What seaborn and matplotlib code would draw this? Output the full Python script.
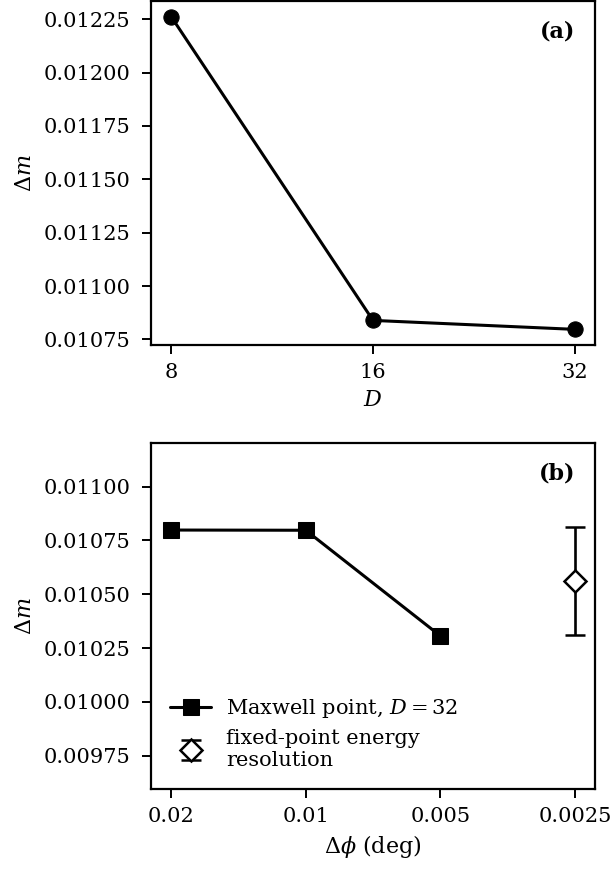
import matplotlib
matplotlib.use("Agg")
import matplotlib.pyplot as plt
import seaborn as sns
import numpy as np
import pandas as pd
from matplotlib.ticker import FixedLocator, FixedFormatter, NullLocator

# ---- data ----
bond_dims = [8, 16, 32]
dm_bond = [0.012262, 0.010839, 0.010797]

dphi = [0.02, 0.01, 0.005]
dm_dphi = [0.010798, 0.010797, 0.010307]
dphi_ticks = [0.02, 0.01, 0.005, 0.0025]
dphi_ticklabels = ["0.02", "0.01", "0.005", "0.0025"]

fp_x = [0.0025]
fp_y = [0.01056]
fp_err = [0.00025]

sns.set_theme(style="ticks")
plt.rcParams["font.family"] = ["DejaVu Serif"]
plt.rcParams["mathtext.fontset"] = "dejavuserif"
plt.rcParams["font.size"] = 15
plt.rcParams["text.color"] = "black"
plt.rcParams["axes.labelcolor"] = "black"
plt.rcParams["axes.linewidth"] = 1.6
plt.rcParams["xtick.major.width"] = 1.4
plt.rcParams["ytick.major.width"] = 1.4
plt.rcParams["xtick.major.size"] = 6.5
plt.rcParams["ytick.major.size"] = 6.5
plt.rcParams["xtick.major.pad"] = 6.5
plt.rcParams["ytick.major.pad"] = 8.5

fig = plt.figure(figsize=(6.13, 8.69), dpi=100)
W, H = 613, 869
ax1 = fig.add_axes([151 / W, 1 - 345 / H, 444 / W, 344 / H])
ax2 = fig.add_axes([151 / W, 1 - 789 / H, 444 / W, 346 / H])

for ax in (ax1, ax2):
    ax.tick_params(labelsize=15, colors="black")
    for s in ax.spines.values():
        s.set_color("black")

# ---- panel (a) ----
df1 = pd.DataFrame({"D": bond_dims, "dm": dm_bond})
sns.lineplot(data=df1, x="D", y="dm", ax=ax1, color="black", marker="o",
             markersize=11, linewidth=2.2, markeredgecolor="black")
ax1.set_xscale("log", base=2)
ax1.xaxis.set_major_locator(FixedLocator(bond_dims))
ax1.xaxis.set_major_formatter(FixedFormatter([str(d) for d in bond_dims]))
ax1.xaxis.set_minor_locator(NullLocator())
ax1.set_yticks([0.01075, 0.01100, 0.01125, 0.01150, 0.01175, 0.01200, 0.01225])
ax1.set_yticklabels(["0.01075", "0.01100", "0.01125", "0.01150", "0.01175", "0.01200", "0.01225"])
ax1.set_xlabel("$D$", fontsize=16, labelpad=5)
ax1.set_ylabel(r"$\Delta m$", fontsize=16, labelpad=5)
ax1.text(0.955, 0.91, "(a)", transform=ax1.transAxes, ha="right", va="center",
         fontweight="bold", fontsize=16)

# ---- panel (b) ----
df2 = pd.DataFrame({"dphi": dphi, "dm": dm_dphi})
sns.lineplot(data=df2, x="dphi", y="dm", ax=ax2, color="black", marker="s",
             markersize=11, linewidth=2.2, markeredgecolor="black",
             label="Maxwell point, $D=32$")
ax2.errorbar(fp_x, fp_y, yerr=fp_err, fmt="D", color="black", mfc="white",
             mec="black", mew=1.8, markersize=11.5, capsize=7.5, elinewidth=1.9,
             capthick=1.9, label="fixed-point energy\nresolution")
ax2.set_xscale("log", base=2)
ax2.set_xlim(0.02 * 2 ** 0.15, 0.0025 / 2 ** 0.15)
ax2.xaxis.set_major_locator(FixedLocator(dphi_ticks))
ax2.xaxis.set_major_formatter(FixedFormatter(dphi_ticklabels))
ax2.xaxis.set_minor_locator(NullLocator())
ax2.set_ylim(0.009596, 0.011202)
ax2.set_yticks([0.00975, 0.01000, 0.01025, 0.01050, 0.01075, 0.01100])
ax2.set_yticklabels(["0.00975", "0.01000", "0.01025", "0.01050", "0.01075", "0.01100"])
ax2.set_xlabel(r"$\Delta\phi$ (deg)", fontsize=16, labelpad=5)
ax2.set_ylabel(r"$\Delta m$", fontsize=16, labelpad=5)
ax2.text(0.955, 0.913, "(b)", transform=ax2.transAxes, ha="right", va="center",
         fontweight="bold", fontsize=16)
leg = ax2.legend(loc="lower left", frameon=False, fontsize=15,
                 handlelength=2.0, labelspacing=0.45, borderaxespad=0.5,
                 handletextpad=0.7)
for t in leg.get_texts():
    t.set_color("black")

fig.savefig("out.png", dpi=100)
